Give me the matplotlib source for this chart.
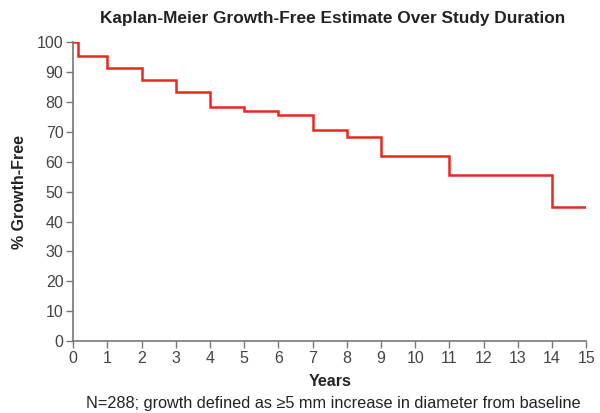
import matplotlib
matplotlib.use("Agg")
import matplotlib.pyplot as plt

plt.rcParams['font.family'] = ['Liberation Sans', 'DejaVu Sans']

# Kaplan-Meier step curve (years, % growth-free)
years = [0, 0.15, 1, 2, 3, 4, 5, 6, 7, 8, 9, 11, 14, 15]
growth_free = [100, 95.5, 91.2, 87.5, 83.2, 78.3, 76.8, 75.5, 70.7, 68.2, 62.0, 55.5, 44.7, 44.7]

x_ticks = list(range(0, 16))
y_ticks = list(range(0, 101, 10))

fig = plt.figure(figsize=(6.0, 4.13), dpi=100)
ax = fig.add_axes([0.122, 0.174, 0.855, 0.724])

ax.step(years, growth_free, where='post', color='#e8281e', lw=1.8, solid_joinstyle='miter')

ax.set_xlim(0, 15)
ax.set_ylim(0, 100)
ax.set_xticks(x_ticks)
ax.set_yticks(y_ticks)
for s in ['top', 'right']:
    ax.spines[s].set_visible(False)
for s in ['left', 'bottom']:
    ax.spines[s].set_color('#777777')
    ax.spines[s].set_linewidth(1.2)
ax.tick_params(colors='#777777', labelcolor='#444444', labelsize=11.5, length=5, width=1, pad=2)

ax.set_xlabel('Years', fontsize=11.5, fontweight='bold', color='#222222', labelpad=6)
ax.set_ylabel('% Growth-Free', fontsize=11.5, fontweight='bold', color='#222222', labelpad=7)
fig.text(0.555, 0.955, 'Kaplan-Meier Growth-Free Estimate Over Study Duration',
         ha='center', va='center', fontsize=12.4, fontweight='bold', color='#222222')
fig.text(0.555, 0.024, 'N=288; growth defined as \u22655 mm increase in diameter from baseline',
         ha='center', va='center', fontsize=11.7, color='#222222')

fig.savefig('out.png', dpi=100)
